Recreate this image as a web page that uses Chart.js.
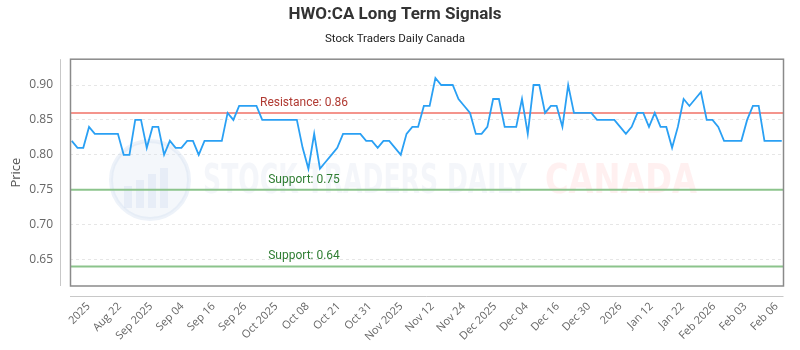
<!DOCTYPE html>
<html>
<head>
<meta charset="utf-8">
<script src="https://cdn.jsdelivr.net/npm/chart.js@4"></script>
<style>
  html, body { margin: 0; padding: 0; background: #fff; }
  #wrap { width: 800px; height: 350px; }
</style>
</head>
<body>
<div id="wrap"><canvas id="myChart" width="800" height="350"></canvas></div>
<script>
// closing prices, one per trading session
var prices = [
  0.82, 0.81, 0.81, 0.84, 0.83, 0.83, 0.83, 0.83, 0.83, 0.80,
  0.80, 0.85, 0.85, 0.81, 0.84, 0.84, 0.80, 0.82, 0.81, 0.81,
  0.82, 0.82, 0.80, 0.82, 0.82, 0.82, 0.82, 0.86, 0.85, 0.87,
  0.87, 0.87, 0.87, 0.85, 0.85, 0.85, 0.85, 0.85, 0.85, 0.85,
  0.81, 0.78, 0.83, 0.78, 0.79, 0.80, 0.81, 0.83, 0.83, 0.83,
  0.83, 0.82, 0.82, 0.81, 0.82, 0.82, 0.81, 0.80, 0.83, 0.84,
  0.84, 0.87, 0.87, 0.91, 0.90, 0.90, 0.90, 0.88, 0.87, 0.86,
  0.83, 0.83, 0.84, 0.88, 0.88, 0.84, 0.84, 0.84, 0.88, 0.83,
  0.90, 0.90, 0.86, 0.87, 0.87, 0.84, 0.90, 0.86, 0.86, 0.86,
  0.86, 0.85, 0.85, 0.85, 0.85, 0.84, 0.83, 0.84, 0.86, 0.86,
  0.84, 0.86, 0.84, 0.84, 0.81, 0.84, 0.88, 0.87, 0.88, 0.89,
  0.85, 0.85, 0.84, 0.82, 0.82, 0.82, 0.82, 0.85, 0.87, 0.87,
  0.82, 0.82, 0.82, 0.82
];

var tickLabels = ['2025', 'Aug 22', 'Sep 2025', 'Sep 04', 'Sep 16', 'Sep 26',
  'Oct 2025', 'Oct 08', 'Oct 21', 'Oct 31', 'Nov 2025', 'Nov 12', 'Nov 24',
  'Dec 2025', 'Dec 04', 'Dec 16', 'Dec 30', '2026', 'Jan 12', 'Jan 22',
  'Feb 2026', 'Feb 03', 'Feb 06'];

var yTicks = [0.65, 0.70, 0.75, 0.80, 0.85, 0.90];

var levelValues = [0.86, 0.75, 0.64];
var levelNames = ['Resistance', 'Support', 'Support'];

// where the first and last date ticks sit, in session units
var firstTick = 2.9, lastTick = 122.1;

var levelColors = { Resistance: '#f4948c', Support: '#8cc48c' };
var levelText = { Resistance: '#b03a32', Support: '#2f7d32' };

var decorations = {
  id: 'decorations',
  beforeDatasetsDraw: function (chart) {
    var c = chart.ctx, a = chart.chartArea, y = chart.scales.y;

    // faint watermark
    c.save();
    c.beginPath();
    c.arc(150, 180, 39, 0, Math.PI * 2);
    c.fillStyle = 'rgba(220,230,243,0.3)';
    c.fill();
    c.lineWidth = 4;
    c.strokeStyle = 'rgba(210,222,240,0.4)';
    c.stroke();
    c.fillStyle = 'rgba(205,218,238,0.32)';
    [[124, 186, 8, 22], [136, 180, 8, 28], [148, 174, 8, 34], [160, 168, 8, 40]].forEach(function (r) {
      c.fillRect(r[0], r[1], r[2], 208 - r[1]);
    });
    c.font = 'bold 41px "DejaVu Sans"';
    c.textBaseline = 'alphabetic';
    var t1 = 'STOCK TRADERS DAILY';
    var w1 = c.measureText(t1).width;
    c.save();
    c.translate(203, 193);
    c.scale(324 / w1, 1);
    c.fillStyle = 'rgba(205,214,230,0.22)';
    c.fillText(t1, 0, 0);
    c.restore();
    var t2 = 'CANADA';
    var w2 = c.measureText(t2).width;
    c.save();
    c.translate(545, 193);
    c.scale(152 / w2, 1);
    c.fillStyle = 'rgba(255,195,195,0.25)';
    c.fillText(t2, 0, 0);
    c.restore();
    c.restore();

    // support / resistance lines with labels
    c.save();
    levelValues.forEach(function (v, i) {
      var py = y.getPixelForValue(v);
      var name = levelNames[i];
      c.beginPath();
      c.moveTo(a.left, py);
      c.lineTo(a.right, py);
      c.lineWidth = 2;
      c.strokeStyle = levelColors[name];
      c.stroke();
      c.font = '12px Roboto';
      c.fillStyle = levelText[name];
      c.textAlign = 'center';
      c.textBaseline = 'bottom';
      c.fillText(name + ': ' + v.toFixed(2), a.left + (a.right - a.left) * 0.328, py - 4);
    });
    c.restore();
  },
  afterDraw: function (chart) {
    var c = chart.ctx, a = chart.chartArea;
    c.save();
    c.lineWidth = 1.5;
    c.strokeStyle = '#8a8a8a';
    c.strokeRect(a.left + 0.5, a.top, a.right - a.left - 0.5, a.bottom - a.top);
    c.lineWidth = 1;
    c.strokeStyle = '#c8c8c8';
    c.beginPath();
    c.moveTo(a.left - 9.5, a.top);
    c.lineTo(a.left - 9.5, a.bottom);
    c.moveTo(a.left, a.bottom + 10.5);
    c.lineTo(a.right, a.bottom + 10.5);
    c.stroke();
    c.restore();
  }
};

var ctx = document.getElementById('myChart').getContext('2d');
var chart = new Chart(ctx, {
    type: 'line',
    data: {
        datasets: [{
            label: 'Price',
            data: prices.map(function (v, i) { return { x: i, y: v }; }),
            borderColor: '#2aa0f4',
            borderWidth: 1.8,
            pointRadius: 0,
            tension: 0,
            fill: false
        }]
    },
    options: {
        responsive: false,
        animation: false,
        layout: { padding: { left: 0, right: 10, top: 0, bottom: 0 } },
        plugins: {
            legend: { display: false },
            tooltip: { enabled: false },
            title: {
                display: true,
                text: 'HWO:CA Long Term Signals',
                color: '#333',
                font: { family: 'Roboto', size: 17, weight: 'bold' },
                padding: { top: 5, bottom: 4 }
            },
            subtitle: {
                display: true,
                text: 'Stock Traders Daily Canada',
                color: '#222',
                font: { family: 'Roboto', size: 11.5 },
                padding: { top: 3, bottom: 13 }
            }
        },
        scales: {
            x: {
                type: 'linear',
                min: -0.3,
                max: 123.3,
                grid: { display: false, drawTicks: false },
                border: { display: false },
                afterBuildTicks: function (scale) {
                    var step = (lastTick - firstTick) / (tickLabels.length - 1);
                    scale.ticks = tickLabels.map(function (l, k) { return { value: firstTick + k * step }; });
                },
                afterFit: function (scale) { scale.height = 64; },
                ticks: {
                    autoSkip: false,
                    minRotation: 45,
                    maxRotation: 45,
                    padding: 14,
                    color: '#666',
                    font: { family: 'Open Sans', size: 11 },
                    callback: function (v, i) { return tickLabels[i]; }
                }
            },
            y: {
                min: 0.612,
                max: 0.937,
                grid: { color: '#e6e6e6', drawTicks: false },
                border: { display: false, dash: [3, 3] },
                afterBuildTicks: function (scale) {
                    scale.ticks = yTicks.map(function (v) { return { value: v }; });
                },
                afterFit: function (scale) { scale.width = 70; },
                title: {
                    display: true,
                    text: 'Price',
                    color: '#555',
                    font: { family: 'Open Sans', size: 13 },
                    padding: { top: 8, bottom: 0 }
                },
                ticks: {
                    padding: 17,
                    color: '#666',
                    font: { family: 'Open Sans', size: 12 },
                    callback: function (v) { return v.toFixed(2); }
                }
            }
        }
    },
    plugins: [decorations]
});
</script>
</body>
</html>
